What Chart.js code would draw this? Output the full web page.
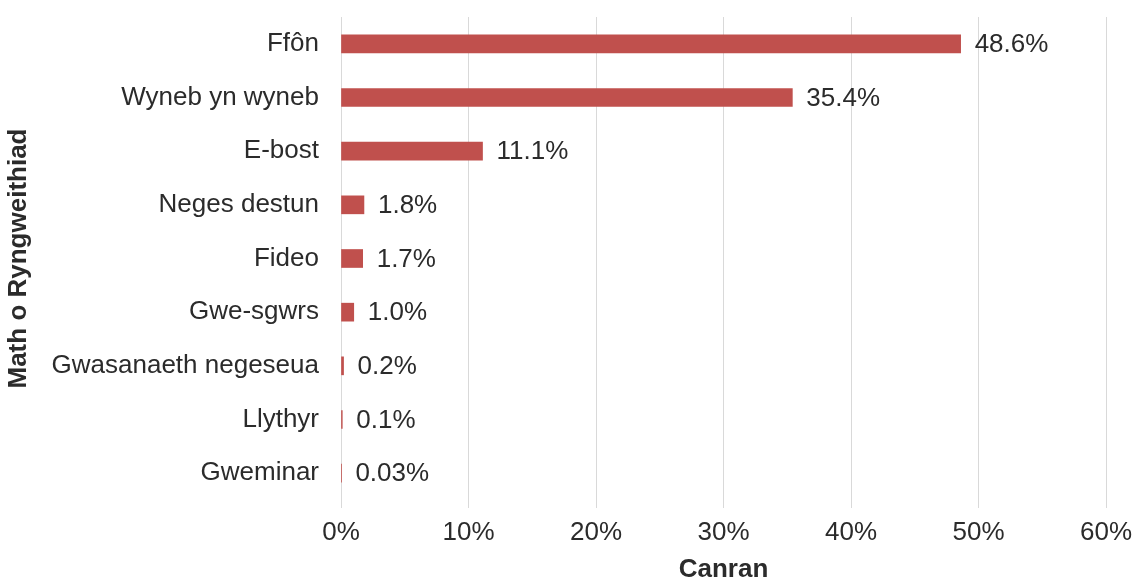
<!DOCTYPE html>
<html>
<head>
<meta charset="utf-8">
<script src="https://cdn.jsdelivr.net/npm/chart.js@4.4.0/dist/chart.umd.min.js"></script>
<style>
  html, body { margin: 0; padding: 0; background: #fff; }
  #wrap { width: 1132px; height: 580px; }
</style>
</head>
<body>
<div id="wrap"><canvas id="chart" width="1132" height="580"></canvas></div>
<script>
const categories = ['Ffôn', 'Wyneb yn wyneb', 'E-bost', 'Neges destun', 'Fideo', 'Gwe-sgwrs', 'Gwasanaeth negeseua', 'Llythyr', 'Gweminar'];
const values = [48.6, 35.4, 11.1, 1.8, 1.7, 1.0, 0.2, 0.1, 0.03];
const xTicks = [0, 10, 20, 30, 40, 50, 60];

const textColor = '#2b2b2b';
const fontFamily = '"Liberation Sans", Arial, sans-serif';

function fmt(v) {
  return (v < 0.1 ? v.toFixed(2) : v.toFixed(1)) + '%';
}

// draws the value text just right of each bar
const valueLabels = {
  id: 'valueLabels',
  afterDatasetsDraw(chart) {
    const c = chart.ctx;
    const meta = chart.getDatasetMeta(0);
    c.save();
    c.font = '26px ' + fontFamily;
    c.fillStyle = textColor;
    c.textAlign = 'left';
    c.textBaseline = 'middle';
    meta.data.forEach((bar, i) => {
      c.fillText(fmt(values[i]), bar.x + 14, bar.y + 1);
    });
    c.restore();
  }
};

new Chart(document.getElementById('chart').getContext('2d'), {
  type: 'bar',
  data: {
    labels: categories,
    datasets: [{
      data: values,
      backgroundColor: '#c0504d',
      borderWidth: 0,
      barThickness: 18
    }]
  },
  options: {
    indexAxis: 'y',
    responsive: false,
    animation: false,
    layout: { padding: { top: 17, left: 0, right: 0, bottom: 0 } },
    plugins: {
      legend: { display: false },
      tooltip: { enabled: false }
    },
    scales: {
      x: {
        min: 0,
        max: 60,
        afterBuildTicks(axis) { axis.ticks = xTicks.map(v => ({ value: v })); },
        afterFit(axis) { axis.paddingRight = 26; axis.paddingLeft = 0; axis.height = 80; },
        grid: { color: '#d9d9d9', lineWidth: 1, tickLength: 8, drawTicks: true },
        border: { display: false },
        ticks: {
          color: textColor,
          font: { family: fontFamily, size: 26, lineHeight: 1 },
          padding: 12,
          callback: v => v + '%'
        },
        title: {
          display: true,
          text: 'Canran',
          color: textColor,
          font: { family: fontFamily, size: 26, weight: 'bold', lineHeight: 0.8 },
          padding: { top: 13, bottom: 0 }
        }
      },
      y: {
        afterFit(axis) { axis.paddingTop = 0; axis.paddingBottom = 0; axis.width = 341; },
        grid: { display: false },
        border: { display: false },
        ticks: {
          color: textColor,
          font: { family: fontFamily, size: 26, lineHeight: 1 },
          padding: 14
        },
        title: {
          display: true,
          text: 'Math o Ryngweithiad',
          color: textColor,
          font: { family: fontFamily, size: 26, weight: 'bold', lineHeight: 1 },
          padding: { top: 6, bottom: 6 }
        }
      }
    }
  },
  plugins: [valueLabels]
});
</script>
</body>
</html>
